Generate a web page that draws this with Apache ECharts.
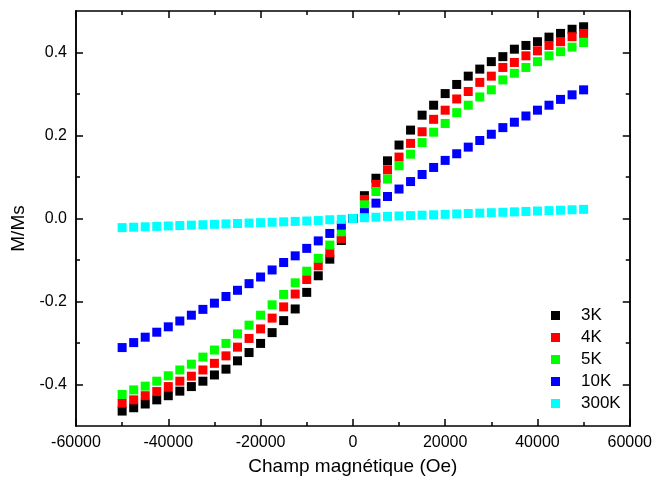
<!DOCTYPE html>
<html>
<head>
<meta charset="utf-8">
<script src="https://cdn.jsdelivr.net/npm/echarts@6/dist/echarts.min.js"></script>
<style>html,body{margin:0;padding:0;background:#fff}#c{width:655px;height:484px}</style>
</head>
<body>
<div id="c"></div>
<script>
const field = [-50000,-47500,-45000,-42500,-40000,-37500,-35000,-32500,-30000,-27500,-25000,-22500,-20000,-17500,-15000,-12500,-10000,-7500,-5000,-2500,0,2500,5000,7500,10000,12500,15000,17500,20000,22500,25000,27500,30000,32500,35000,37500,40000,42500,45000,47500,50000];
const m3K = [-0.464,-0.456,-0.447,-0.437,-0.427,-0.416,-0.405,-0.392,-0.377,-0.363,-0.343,-0.323,-0.301,-0.275,-0.246,-0.218,-0.178,-0.138,-0.098,-0.053,0,0.055,0.097,0.139,0.177,0.213,0.249,0.273,0.301,0.323,0.343,0.360,0.378,0.390,0.408,0.417,0.426,0.437,0.446,0.456,0.462];
const m4K = [-0.445,-0.437,-0.427,-0.417,-0.405,-0.392,-0.380,-0.365,-0.349,-0.331,-0.310,-0.289,-0.266,-0.240,-0.213,-0.182,-0.147,-0.114,-0.082,-0.048,0,0.046,0.082,0.117,0.148,0.181,0.209,0.239,0.261,0.288,0.306,0.328,0.343,0.364,0.376,0.392,0.404,0.417,0.426,0.438,0.446];
const m5K = [-0.424,-0.413,-0.404,-0.392,-0.379,-0.365,-0.351,-0.334,-0.317,-0.301,-0.278,-0.257,-0.233,-0.208,-0.183,-0.155,-0.127,-0.096,-0.064,-0.032,0,0.033,0.065,0.095,0.127,0.155,0.183,0.208,0.229,0.255,0.273,0.293,0.310,0.334,0.350,0.364,0.378,0.392,0.402,0.413,0.424];
const m10K = [-0.311,-0.299,-0.286,-0.274,-0.261,-0.247,-0.233,-0.219,-0.204,-0.188,-0.173,-0.157,-0.141,-0.124,-0.106,-0.090,-0.072,-0.054,-0.036,-0.016,0,0.014,0.037,0.053,0.071,0.089,0.106,0.123,0.140,0.156,0.172,0.188,0.203,0.219,0.232,0.247,0.261,0.273,0.287,0.298,0.310];
const m300K = [-0.022,-0.021,-0.020,-0.019,-0.018,-0.017,-0.016,-0.015,-0.014,-0.013,-0.012,-0.011,-0.010,-0.009,-0.008,-0.007,-0.006,-0.005,-0.003,-0.002,0,0.002,0.003,0.005,0.006,0.007,0.008,0.009,0.010,0.011,0.012,0.013,0.014,0.015,0.016,0.017,0.018,0.019,0.020,0.021,0.022];
const seriesNames = ['3K','4K','5K','10K','300K'];
const seriesValues = [m3K, m4K, m5K, m10K, m300K];
const seriesColors = ['#000000','#ff0000','#00ff00','#0000ff','#00ffff'];
const yMajor = [-0.4,-0.2,0,0.2,0.4];
const yMinor = [-0.3,-0.1,0.1,0.3];

const FONT = 'Liberation Sans, Arial, sans-serif';
const line = {color:'#000', width:1.5};
function xAx(pos, show){
  return {type:'value', min:-60000, max:60000, interval:20000, position:pos,
    axisLine:{show:true, onZero:false, lineStyle:line},
    axisTick:{show:true, inside:true, length:7, lineStyle:line},
    minorTick:{show:true, splitNumber:2, length:4, lineStyle:line},
    splitLine:{show:false},
    axisLabel:{show:show, color:'#000', fontSize:16, fontFamily:FONT, margin:9, formatter:v=>String(v)},
    name: show ? 'Champ magnétique (Oe)' : '', nameLocation:'middle', nameGap:31,
    nameTextStyle:{color:'#000', fontSize:19, fontFamily:FONT}};
}
function yAx(pos, vals, len, show){
  return {type:'value', min:-0.5, max:0.5, position:pos,
    axisLine:{show:true, onZero:false, lineStyle:line},
    axisTick:{show:true, inside:true, length:len, customValues:vals, lineStyle:line},
    splitLine:{show:false},
    axisLabel:{show:show, customValues:vals, color:'#000', fontSize:16, fontFamily:FONT, margin:9,
      formatter:v=>Number(v).toFixed(1)},
    name: show ? 'M/Ms' : '', nameLocation:'middle', nameGap:44, nameRotate:90,
    nameTextStyle:{color:'#000', fontSize:19, fontFamily:FONT, padding:[0,20,0,0]}};
}
const option = {
  animation:false,
  backgroundColor:'#fff',
  grid:{left:76, right:22, top:11, bottom:58},
  xAxis:[xAx('bottom', true), xAx('top', false)],
  yAxis:[yAx('left', yMajor, 7, true), yAx('left', yMinor, 4, false), yAx('right', yMajor, 7, false), yAx('right', yMinor, 4, false)],
  legend:{orient:'vertical', left:546, top:302, itemWidth:9, itemHeight:9, itemGap:5,
    data:seriesNames, icon:'rect',
    textStyle:{color:'#000', fontSize:17, fontFamily:FONT, lineHeight:16, padding:[0,0,0,16]}},
  series: seriesNames.map((n,i)=>({
    name:n, type:'scatter', symbol:'rect', symbolSize:9,
    xAxisIndex:0, yAxisIndex:0,
    itemStyle:{color:seriesColors[i], opacity:1},
    data: field.map((f,j)=>[f, seriesValues[i][j]])
  }))
};
const chart = echarts.init(document.getElementById('c'), null, {renderer:'canvas'});
chart.setOption(option);
</script>
</body>
</html>
